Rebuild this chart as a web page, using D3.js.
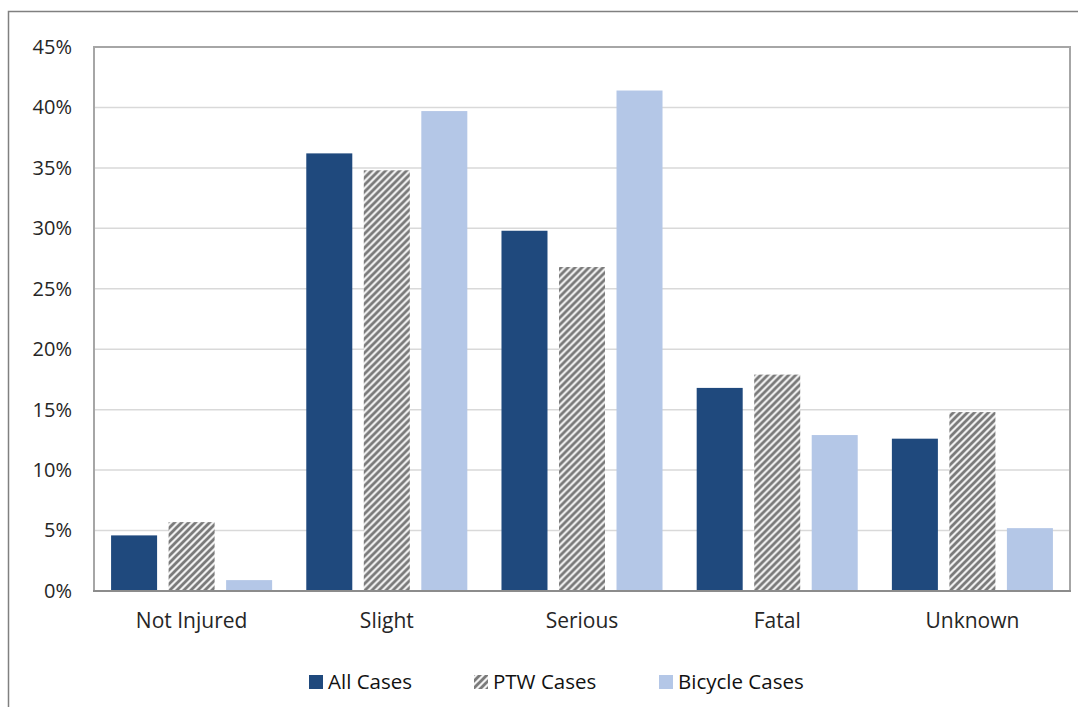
<!DOCTYPE html>
<html><head><meta charset="utf-8">
<script src="https://cdn.jsdelivr.net/npm/d3@7"></script>
<style>body{margin:0;background:#fff}svg{display:block}text{font-family:"Open Sans",sans-serif;fill:#262626}</style>
</head><body><svg id="c" width="1078" height="707"></svg>
<script>
const categories = ["Not Injured","Slight","Serious","Fatal","Unknown"];
const seriesNames = ["All Cases","PTW Cases","Bicycle Cases"];
const allCases = [4.6, 36.2, 29.8, 16.8, 12.6];
const ptwCases = [5.7, 34.8, 26.8, 17.9, 14.8];
const bicycleCases = [0.9, 39.7, 41.4, 12.9, 5.2];
const yTicks = [0,5,10,15,20,25,30,35,40,45];

const svg = d3.select("#c");
const W=1078,H=707;
const m={l:94,r:8,t:47,b:116};
const pw=W-m.l-m.r, ph=H-m.t-m.b;

const defs=svg.append("defs");
const P=7;
const pat=defs.append("pattern").attr("id","hatch").attr("patternUnits","userSpaceOnUse")
  .attr("width",P).attr("height",P);
pat.append("rect").attr("width",P).attr("height",P).attr("fill","#f2f2f2");
pat.append("path").attr("d",`M-1,${P+1} L${P+1},-1 M-${P/2+1},${P/2+1} L${P/2+1},-${P/2+1} M${P/2-1},${P*1.5+1} L${P*1.5+1},${P/2-1}`)
  .attr("stroke","#7a7a7a").attr("stroke-width",2.8);

// outer frame
svg.append("path").attr("d",`M8.5,${H} L8.5,11.5 L${W},11.5`).attr("fill","none").attr("stroke","#808080").attr("stroke-width",1.5);

const g=svg.append("g").attr("transform",`translate(${m.l},${m.t})`);
const x0=d3.scaleBand().domain(categories).range([0,pw]).paddingInner(0.175).paddingOuter(0.0875);
const x1=d3.scaleBand().domain(seriesNames).range([0,x0.bandwidth()]).paddingInner(0.2);
const y=d3.scaleLinear().domain([0,45]).range([ph,0]);

g.append("g").selectAll("line").data(yTicks.slice(1)).join("line")
  .attr("x1",0).attr("x2",pw).attr("y1",d=>y(d)).attr("y2",d=>y(d))
  .attr("stroke","#d9d9d9").attr("stroke-width",1.5);

const fills={"All Cases":"#1f497d","PTW Cases":"url(#hatch)","Bicycle Cases":"#b4c7e7"};
const data=categories.map((c,i)=>({c,vals:[["All Cases",allCases[i]],["PTW Cases",ptwCases[i]],["Bicycle Cases",bicycleCases[i]]]}));
g.append("g").selectAll("g").data(data).join("g")
  .attr("transform",d=>`translate(${x0(d.c)},0)`)
  .selectAll("rect").data(d=>d.vals).join("rect")
  .attr("x",d=>x1(d[0])).attr("width",x1.bandwidth())
  .attr("y",d=>y(d[1])).attr("height",d=>ph-y(d[1]))
  .attr("fill",d=>fills[d[0]]);

// plot border
g.append("rect").attr("x",0).attr("y",0).attr("width",pw).attr("height",ph)
  .attr("fill","none").attr("stroke","#a6a6a6").attr("stroke-width",2);
g.append("line").attr("x1",-1).attr("x2",pw+1).attr("y1",ph).attr("y2",ph).attr("stroke","#8c8c8c").attr("stroke-width",2);

// y axis labels
const ya=g.append("g").call(d3.axisLeft(y).tickValues(yTicks).tickFormat(d=>d+"%").tickSize(0).tickPadding(22));
ya.select(".domain").remove();
ya.selectAll("text").style("font-size","20px").attr("fill","#262626").style("font-family","'Open Sans',sans-serif");

const xa=g.append("g").attr("transform",`translate(0,${ph})`).call(d3.axisBottom(x0).tickSize(0).tickPadding(22));
xa.select(".domain").remove();
xa.selectAll("text").style("font-size","21px").attr("fill","#262626").style("font-family","'Open Sans',sans-serif");

// legend
const leg=[{n:"All Cases",x:309},{n:"PTW Cases",x:474},{n:"Bicycle Cases",x:659}];
const lg=svg.append("g");
leg.forEach(l=>{
  lg.append("rect").attr("x",l.x).attr("y",675).attr("width",14).attr("height",14).attr("fill",fills[l.n]);
  lg.append("text").attr("x",l.x+19).attr("y",689).style("font-size","20.5px").style("fill","#111").text(l.n);
});
</script></body></html>
